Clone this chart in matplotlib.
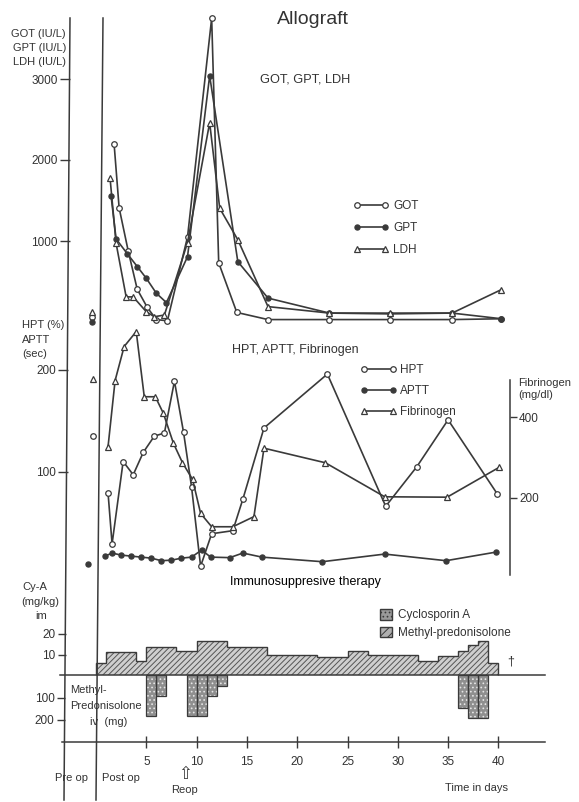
import matplotlib
matplotlib.use('Agg')
import matplotlib.pyplot as plt
from matplotlib.lines import Line2D
from matplotlib.patches import Patch
import numpy as np

plt.rcParams['font.family'] = ['Liberation Sans Narrow', 'Liberation Sans', 'DejaVu Sans']
plt.rcParams['hatch.linewidth'] = 0.7

# ---------------- data ----------------
# upper panel: GOT, GPT, LDH (IU/L); days after operation (negative = pre-op)
got_days = [-0.8, 1.4, 1.9, 2.8, 3.7, 4.7, 5.6, 6.7, 8.7, 11.1, 11.8, 13.6, 16.7, 22.8, 28.8, 35.0, 39.9]
got_vals = [65, 2200, 1410, 880, 404, 180, 30, 15, 1050, 3750, 730, 118, 30, 30, 30, 30, 40]
gpt_days = [-0.8, 1.1, 1.6, 2.7, 3.7, 4.6, 5.6, 6.6, 8.7, 10.9, 13.7, 16.7, 22.8, 28.8, 35.0, 39.9]
gpt_vals = [5, 1556, 1025, 845, 685, 540, 355, 240, 806, 3040, 745, 295, 110, 100, 110, 40]
ldh_days = [-0.8, 1.0, 1.6, 2.6, 3.3, 4.6, 5.4, 6.4, 8.7, 10.9, 11.9, 13.7, 16.7, 22.8, 28.8, 35.0, 39.9]
ldh_vals = [127, 1775, 972, 310, 310, 127, 65, 86, 980, 2460, 1404, 1015, 190, 110, 110, 110, 400]

# middle panel: HPT (%), APTT (sec), Fibrinogen (mg/dl)
hpt_days = [-0.6, 0.9, 1.3, 2.4, 3.4, 4.4, 5.5, 6.5, 7.5, 8.4, 9.2, 10.1, 11.2, 13.3, 14.3, 16.4, 22.7, 28.5, 31.6, 34.7, 39.6]
hpt_vals = [135, 79, 29, 110, 97, 119, 135, 138, 189, 139, 85, 7, 39, 42, 73, 143, 196, 66, 105, 151, 78]
aptt_days = [-1.1, 0.6, 1.3, 2.2, 3.2, 4.2, 5.2, 6.2, 7.2, 8.2, 9.2, 10.2, 11.1, 13.0, 14.3, 16.2, 22.2, 28.4, 34.5, 39.5]
aptt_vals = [9, 17, 20, 18, 17, 16, 15, 12.5, 13, 15, 16, 23, 16, 15.5, 20, 16, 11.5, 19, 12.5, 21]
fib_days = [-0.6, 0.9, 1.6, 2.5, 3.7, 4.5, 5.6, 6.4, 7.4, 8.3, 9.3, 10.1, 11.2, 13.3, 15.4, 16.4, 22.5, 28.4, 34.6, 39.8]
fib_vals = [494, 327, 490, 574, 611, 450, 450, 409, 335, 287, 246, 162, 129, 129, 154, 323, 287, 203, 202, 276]

# bottom panel: immunosuppressive therapy
cya_edges = [0, 1, 4, 5, 8, 10, 13, 17, 22, 25, 27, 32, 34, 36, 37, 38, 39, 40]
cya_vals = [5.8, 11, 6.8, 13.6, 11.5, 16.8, 13.6, 10, 8.9, 11.5, 10, 6.8, 9.5, 11.5, 14.7, 16.8, 5.8]   # mg/kg im
mp_days = [5, 6, 9, 10, 11, 12, 36, 37, 38]
mp_vals = [180, 95, 180, 180, 95, 50, 145, 190, 190]                                               # mg iv

day_ticks = [5, 10, 15, 20, 25, 30, 35, 40]

# ---------------- layout helpers ----------------
W, H = 579, 802
PXD = 10.06          # pixels per day
INK = '#3a3a3a'
TXT = '#333333'

fig = plt.figure(figsize=(W / 100, H / 100), dpi=100)
fig.patch.set_facecolor('white')


def panel(p0, y0, ppu, invert=False):
    """Full-figure transparent axes: day 0 at pixel x=p0, value 0 at pixel y=y0, ppu pixels per unit."""
    ax = fig.add_axes([0, 0, 1, 1])
    ax.patch.set_visible(False)
    ax.set_xlim(-p0 / PXD, (W - p0) / PXD)
    s = -1 if invert else 1
    ax.set_ylim(s * (y0 - H) / ppu, s * y0 / ppu)
    for sp in ax.spines.values():
        sp.set_visible(False)
    ax.set_xticks([])
    ax.set_yticks([])
    return ax


def px_to_day(px, p0):
    return (px - p0) / PXD


def ftext(x, y, s, **kw):
    kw.setdefault('color', TXT)
    kw.setdefault('fontsize', 8)
    kw.setdefault('va', 'center')
    fig.text(x / W, 1 - y / H, s, **kw)


def yticks_left(ax, p0, xpx, ticks, length=7):
    ax.spines['left'].set_position(('data', px_to_day(xpx, p0)))
    ax.yaxis.set_ticks_position('left')
    ax.set_yticks(ticks)
    ax.set_yticklabels([str(t) for t in ticks])
    ax.tick_params(axis='y', direction='out', length=length, width=1.0,
                   color=INK, labelcolor=TXT, labelsize=8.5, pad=1.5)


def series(ax, days, vals, **style):
    """first value is the pre-op point (not connected), the rest is the post-op line"""
    line, = ax.plot(days[1:], vals[1:], color=INK, lw=1.2, **style)
    ax.plot(days[:1], vals[:1], ls='none', **style)
    return line


# long (slightly tilted, scanned) separator lines: pre-op / post-op
fig.add_artist(Line2D([70 / W, 64 / W], [1 - 18 / H, 1 - 800 / H], transform=fig.transFigure, color=INK, lw=1.1))
fig.add_artist(Line2D([103 / W, 96 / W], [1 - 18 / H, 1 - 800 / H], transform=fig.transFigure, color=INK, lw=1.1))

open_o = dict(marker='o', ms=4, mfc='white', mec=INK, mew=0.9)
fill_o = dict(marker='o', ms=3.6, mfc=INK, mec=INK)
open_t = dict(marker='^', ms=4.2, mfc='white', mec=INK, mew=0.9)

# ---------------- upper panel ----------------
P_UP = 100
ax_up = panel(P_UP, 322, 0.081)
yticks_left(ax_up, P_UP, 69.5, [1000, 2000, 3000])
l_got = series(ax_up, got_days, got_vals, **open_o)
l_gpt = series(ax_up, gpt_days, gpt_vals, **fill_o)
l_ldh = series(ax_up, ldh_days, ldh_vals, **open_t)

ax_up.legend([l_got, l_gpt, l_ldh], ['GOT', 'GPT', 'LDH'], loc='upper left',
             bbox_to_anchor=(353 / W, 1 - 200 / H), bbox_transform=fig.transFigure,
             frameon=False, numpoints=2, handlelength=3.0, handletextpad=0.4,
             labelspacing=0.85, borderpad=0, borderaxespad=0, fontsize=8.5,
             labelcolor=TXT)

ftext(277, 20, 'Allograft', fontsize=14)
ftext(260, 80, 'GOT, GPT, LDH', fontsize=9.2)
ftext(66, 34, 'GOT (IU/L)', ha='right')
ftext(66, 48, 'GPT (IU/L)', ha='right')
ftext(66, 62, 'LDH (IU/L)', ha='right')

# ---------------- middle panel ----------------
P_MID = 99
ax_mid = panel(P_MID, 573.4, 1.017)
yticks_left(ax_mid, P_MID, 67.5, [100, 200])
ax_fib = panel(P_MID, 579, 0.405)

m_hpt = series(ax_mid, hpt_days, hpt_vals, **open_o)
m_aptt = series(ax_mid, aptt_days, aptt_vals, **fill_o)
m_fib = series(ax_fib, fib_days, fib_vals, **open_t)

# right fibrinogen axis
ax_fib.spines['right'].set_visible(True)
ax_fib.spines['right'].set_position(('data', px_to_day(510, P_MID)))
ax_fib.spines['right'].set_bounds(10, 491)
ax_fib.spines['right'].set_color(INK)
ax_fib.spines['right'].set_linewidth(1.1)
ax_fib.yaxis.set_ticks_position('right')
ax_fib.set_yticks([200, 400])
ax_fib.set_yticklabels(['200', '400'])
ax_fib.tick_params(axis='y', direction='out', length=5, width=1.0, color=INK,
                   labelcolor=TXT, labelsize=8.5, pad=1.5)

ax_mid.legend([m_hpt, m_aptt, m_fib], ['HPT', 'APTT', 'Fibrinogen'], loc='upper left',
              bbox_to_anchor=(360 / W, 1 - 364 / H), bbox_transform=fig.transFigure,
              frameon=False, numpoints=2, handlelength=3.1, handletextpad=0.3,
              labelspacing=0.75, borderpad=0, borderaxespad=0, fontsize=8.5,
              labelcolor=TXT)

ftext(22, 325, 'HPT (%)', ha='left')
ftext(22, 340, 'APTT', ha='left')
ftext(22, 354, '(sec)', ha='left')
ftext(232, 350, 'HPT, APTT, Fibrinogen', fontsize=9)
ftext(518, 383, 'Fibrinogen', ha='left')
ftext(518, 395, '(mg/dl)', ha='left')

# ---------------- bottom panel (therapy) ----------------
P_BOT = 96
BASE = 675
ax_c = panel(P_BOT, BASE, 2.05)
ax_m = panel(P_BOT, BASE, 0.225, invert=True)
yticks_left(ax_c, P_BOT, 65.5, [10, 20], length=6)
yticks_left(ax_m, P_BOT, 65, [100, 200], length=6)

ax_c.stairs(cya_vals, cya_edges, baseline=0, fill=True, facecolor='#cfcfcf', edgecolor='none', lw=0)
ax_c.stairs(cya_vals, cya_edges, baseline=0, fill=True, facecolor='none', edgecolor='#555555',
            hatch='//////', lw=0)
ax_c.stairs(cya_vals, cya_edges, baseline=0, fill=False, color=INK, lw=1.0)
ax_c.axhline(0, xmin=60 / W, xmax=545 / W, color=INK, lw=1.1)

ax_m.bar(mp_days, mp_vals, width=1, align='edge', facecolor='#8f8f8f', edgecolor='#e6e6e6',
         hatch='....', lw=0)
ax_m.bar(mp_days, mp_vals, width=1, align='edge', fill=False, edgecolor=INK, lw=0.9)

ax_c.legend([Patch(facecolor='#9a9a9a', edgecolor=INK, hatch='....'),
             Patch(facecolor='#b0b0b0', edgecolor=INK, hatch='////')],
            ['Cyclosporin A', 'Methyl-predonisolone'], loc='upper left',
            bbox_to_anchor=(380 / W, 1 - 609 / H), bbox_transform=fig.transFigure,
            frameon=False, handlelength=1.0, handleheight=1.0, handletextpad=0.5,
            labelspacing=0.45, borderpad=0, borderaxespad=0, fontsize=8.5, labelcolor=TXT)

ftext(230, 582, 'Immunosuppresive therapy', fontsize=9, color='black')
ftext(22, 587, 'Cy-A', ha='left')
ftext(21, 602, '(mg/kg)', ha='left')
ftext(35, 616, 'im', ha='left')
ftext(70, 690, 'Methyl-', ha='left')
ftext(70, 706, 'Predonisolone', ha='left')
ftext(90, 722, 'iv  (mg)', ha='left')
ftext(511, 662, '\u2020', ha='center', fontsize=9)

# time axis
ax_t = panel(P_BOT, 742, 1.0)
ax_t.spines['bottom'].set_visible(True)
ax_t.spines['bottom'].set_position(('data', 0))
ax_t.spines['bottom'].set_bounds(px_to_day(62, P_BOT), px_to_day(545, P_BOT))
ax_t.spines['bottom'].set_color(INK)
ax_t.spines['bottom'].set_linewidth(1.1)
ax_t.xaxis.set_ticks_position('bottom')
ax_t.set_xticks(day_ticks)
ax_t.set_xticklabels([str(d) for d in day_ticks])
ax_t.tick_params(axis='x', direction='inout', length=8, width=1.0, color=INK,
                 labelcolor=TXT, labelsize=8.5, pad=6)

ftext(55, 778, 'Pre op', ha='left')
ftext(102, 778, 'Post op', ha='left')
ftext(185, 774, '\u21e7', ha='center', fontsize=12, family='DejaVu Sans', color=INK)
ftext(185, 790, 'Reop', ha='center')
ftext(445, 788, 'Time in days', ha='left')

fig.savefig('out.png', dpi=100, facecolor='white')
